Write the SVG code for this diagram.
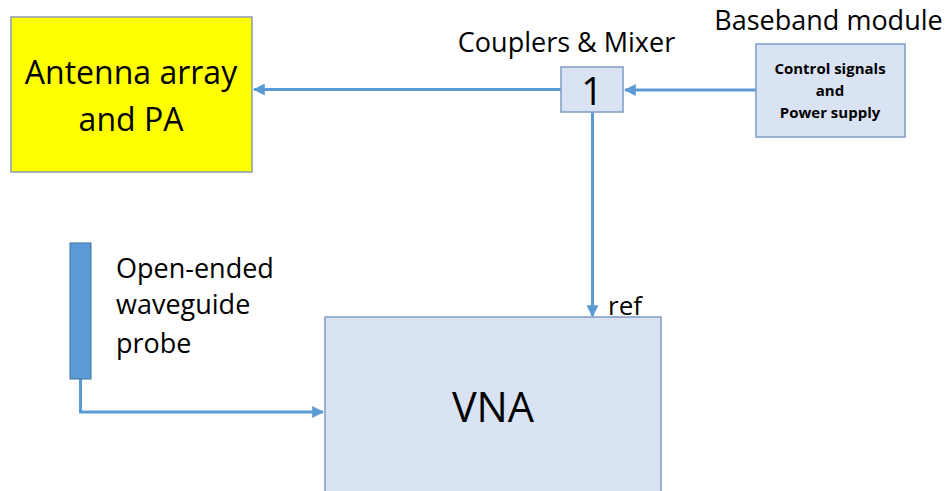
<svg xmlns="http://www.w3.org/2000/svg" width="948" height="491" viewBox="0 0 948 491">
  <defs>
    <marker id="arrow" viewBox="0 0 10 10" refX="9" refY="5" markerWidth="4" markerHeight="4" orient="auto" markerUnits="strokeWidth">
      <path d="M0,0 L10,5 L0,10 Z" fill="#5B9BD5"/>
    </marker>
    <style>
      .lbl { font-family: "Open Sans", "Liberation Sans", sans-serif; fill: #000; }
      .box { fill: #DAE3F3; stroke: #7F9CC4; stroke-width: 1.5; }
      .wire { fill: none; stroke: #5B9BD5; stroke-width: 3; }
    </style>
  </defs>
  <rect width="948" height="491" fill="#FFFFFF"/>

  <!-- connectors -->
  <g id="connectors">
    <line class="wire" x1="561" y1="89.5" x2="254" y2="89.5" marker-end="url(#arrow)"/>
    <line class="wire" x1="756" y1="90" x2="625" y2="90" marker-end="url(#arrow)"/>
    <line class="wire" x1="592.5" y1="112" x2="592.5" y2="316" marker-end="url(#arrow)"/>
    <polyline class="wire" points="80.5,379 80.5,412 323,412" marker-end="url(#arrow)"/>
  </g>

  <!-- antenna array and power amplifier -->
  <g id="antenna">
    <rect x="11" y="17" width="241" height="155" fill="#FFFF00" stroke="#8A9AB0" stroke-width="1.5"/>
    <text class="lbl" x="131" y="84" font-size="32" text-anchor="middle">Antenna array</text>
    <text class="lbl" x="131" y="131" font-size="32" text-anchor="middle">and PA</text>
  </g>

  <!-- couplers and mixer -->
  <g id="coupler">
    <text class="lbl" x="566.5" y="52" font-size="27" text-anchor="middle">Couplers &amp; Mixer</text>
    <rect class="box" x="561" y="67" width="62" height="45"/>
    <text class="lbl" x="592" y="105" font-size="38" text-anchor="middle">1</text>
  </g>

  <!-- baseband module -->
  <g id="baseband">
    <text class="lbl" x="828.5" y="30" font-size="27" text-anchor="middle">Baseband module</text>
    <rect class="box" x="756" y="44" width="149" height="93"/>
    <text class="lbl" x="830" y="74" font-size="15" font-weight="bold" text-anchor="middle">Control signals</text>
    <text class="lbl" x="830" y="96" font-size="15" font-weight="bold" text-anchor="middle">and</text>
    <text class="lbl" x="830" y="118" font-size="15" font-weight="bold" text-anchor="middle">Power supply</text>
  </g>

  <!-- open-ended waveguide probe -->
  <g id="probe">
    <rect x="70" y="243" width="21" height="136" fill="#5B9BD5" stroke="#41719C" stroke-width="1"/>
    <text class="lbl" x="116" y="278" font-size="27">Open-ended</text>
    <text class="lbl" x="116" y="314" font-size="27">waveguide</text>
    <text class="lbl" x="116" y="353" font-size="27">probe</text>
  </g>

  <!-- vector network analyser -->
  <g id="vna">
    <rect class="box" x="325" y="317" width="336" height="190"/>
    <text class="lbl" x="493" y="422" font-size="41.5" text-anchor="middle">VNA</text>
    <text class="lbl" x="608" y="315" font-size="26">ref</text>
  </g>
</svg>
